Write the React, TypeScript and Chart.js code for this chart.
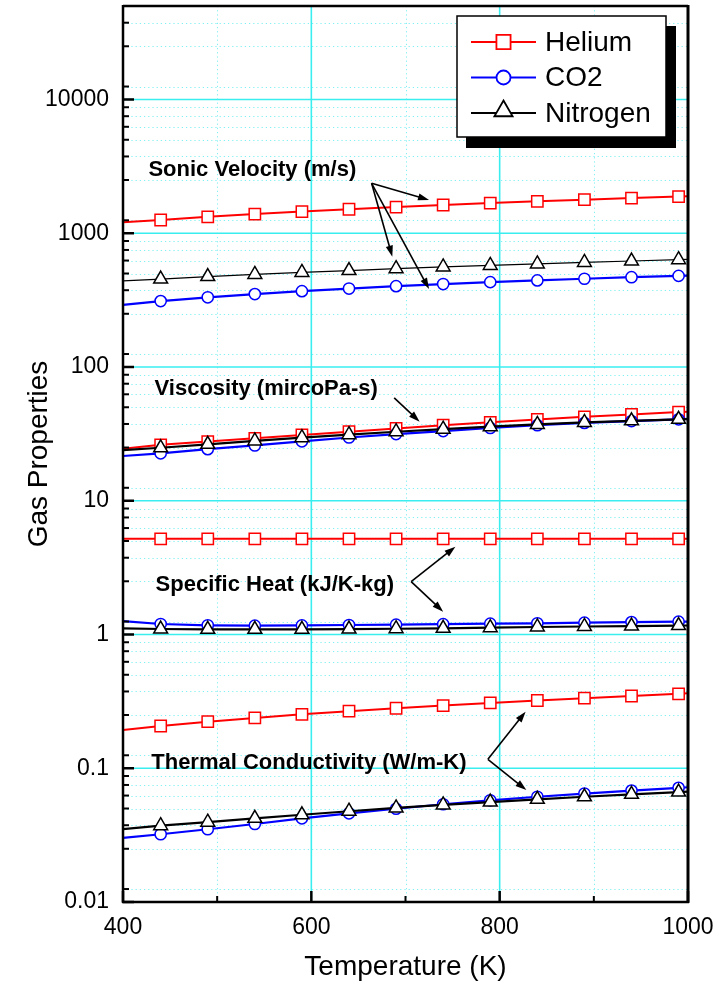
import React, { useEffect, useRef } from 'react';
import { Chart, registerables } from 'chart.js';

Chart.register(...registerables);

// ---------- data ----------
const temperatures = [400, 440, 490, 540, 590, 640, 690, 740, 790, 840, 890, 940, 990, 1000];

const heliumSonic = [1210, 1256, 1326, 1391, 1452, 1512, 1569, 1626, 1680, 1732, 1782, 1832, 1880, 1889];
const co2Sonic = [291, 311, 332, 351, 369, 386, 402, 417, 431, 444, 457, 469, 480, 482];
const nitrogenSonic = [440, 454, 474, 492, 509, 526, 543, 560, 575, 590, 605, 620, 634, 638];

const heliumViscosity = [24.5, 26.2, 27.7, 29.3, 31.0, 32.8, 34.7, 36.7, 38.6, 40.5, 42.4, 44.2, 46.0, 46.3];
const co2Viscosity = [21.6, 22.6, 24.3, 25.9, 27.8, 29.7, 31.5, 33.2, 35.0, 36.7, 38.2, 39.4, 40.6, 40.9];
const nitrogenViscosity = [23.9, 24.9, 26.4, 28.0, 29.6, 31.2, 32.8, 34.3, 35.8, 37.2, 38.5, 39.6, 40.6, 40.8];

const heliumCp = [5.19, 5.19, 5.19, 5.19, 5.19, 5.19, 5.19, 5.19, 5.19, 5.19, 5.19, 5.19, 5.19, 5.19];
const co2Cp = [1.26, 1.198, 1.172, 1.164, 1.17, 1.178, 1.185, 1.195, 1.205, 1.213, 1.225, 1.238, 1.247, 1.25];
const nitrogenCp = [1.112, 1.099, 1.094, 1.094, 1.094, 1.097, 1.104, 1.112, 1.124, 1.138, 1.148, 1.157, 1.166, 1.168];

const heliumK = [0.193, 0.207, 0.223, 0.238, 0.253, 0.267, 0.281, 0.294, 0.308, 0.321, 0.334, 0.347, 0.36, 0.363];
const co2K = [0.0302, 0.0321, 0.035, 0.0383, 0.0422, 0.046, 0.0498, 0.0538, 0.0576, 0.0612, 0.0647, 0.0681, 0.0714, 0.0721];
const nitrogenK = [0.0351, 0.0372, 0.0395, 0.0422, 0.0449, 0.0477, 0.0505, 0.0532, 0.0559, 0.0586, 0.0612, 0.0638, 0.0663, 0.0668];

const xMajorTicks = [400, 600, 800, 1000];
const xMinorTicks = [500, 700, 900];
const yMajorTicks = [0.01, 0.1, 1, 10, 100, 1000, 10000];
const yMinorSteps = [1.25, 2.5, 3.75, 5, 6.25, 7.5, 8.75];

const gasNames = ['Helium', 'CO2', 'Nitrogen'];

// ---------- styles ----------
const FONT = '"Liberation Sans", Arial, Helvetica, sans-serif';
const MAJOR_GRID = '#3aeef0';
const MINOR_GRID = '#7ff0f4';

const gasStyle: Record<string, any> = {
  Helium: { color: '#ff0000', pointStyle: 'rect', radius: 8, legendRadius: 10, width: 2, order: 2 },
  CO2: { color: '#0000ff', pointStyle: 'circle', radius: 5.6, legendRadius: 7, width: 2.2, order: 1 },
  Nitrogen: { color: '#000000', pointStyle: 'triangle', radius: 8, legendRadius: 10.5, width: 2.2, order: 0 },
};

const groups = [
  { prop: 'sonic', series: { Helium: heliumSonic, CO2: co2Sonic, Nitrogen: nitrogenSonic }, n2Width: 1.2 },
  { prop: 'viscosity', series: { Helium: heliumViscosity, CO2: co2Viscosity, Nitrogen: nitrogenViscosity }, n2Width: 2.2 },
  { prop: 'cp', series: { Helium: heliumCp, CO2: co2Cp, Nitrogen: nitrogenCp }, n2Width: 2.2 },
  { prop: 'k', series: { Helium: heliumK, CO2: co2K, Nitrogen: nitrogenK }, n2Width: 2.2 },
];

// annotation placement (data coordinates)
const annotations = [
  {
    text: 'Sonic Velocity (m/s)',
    at: [427, 2972],
    arrows: [
      { from: [664, 2361], to: [725, 1774] },
      { from: [664, 2361], to: [686, 668] },
      { from: [664, 2361], to: [725, 383] },
    ],
  },
  {
    text: 'Viscosity (mircoPa-s)',
    at: [433.5, 68.5],
    arrows: [{ from: [688, 58.7], to: [715, 39.0] }],
  },
  {
    text: 'Specific Heat (kJ/K-kg)',
    at: [434.6, 2.344],
    arrows: [
      { from: [706, 2.483], to: [753, 4.53] },
      { from: [706, 2.483], to: [740, 1.48] },
    ],
  },
  {
    text: 'Thermal Conductivity (W/m-K)',
    at: [430, 0.1094],
    arrows: [
      { from: [787.5, 0.1167], to: [827.5, 0.265] },
      { from: [787.5, 0.1167], to: [828.3, 0.0687] },
    ],
  },
];

function buildDatasets() {
  const out: any[] = [];
  const last = temperatures.length - 1;
  groups.forEach((g) => {
    gasNames.forEach((gas) => {
      const st = gasStyle[gas];
      const values = (g.series as any)[gas] as number[];
      out.push({
        label: gas,
        data: temperatures.map((t, i) => ({ x: t, y: values[i] })),
        borderColor: st.color,
        backgroundColor: '#ffffff',
        borderWidth: gas === 'Nitrogen' ? g.n2Width : st.width,
        pointStyle: st.pointStyle,
        pointRadius: temperatures.map((_, i) => (i === 0 || i === last ? 0 : st.radius)),
        pointBorderWidth: 1.5,
        pointBorderColor: st.color,
        pointBackgroundColor: '#ffffff',
        tension: 0,
        order: st.order,
        clip: 4,
      });
    });
  });
  return out;
}

function drawMarker(ctx: CanvasRenderingContext2D, style: string, x: number, y: number, r: number) {
  ctx.beginPath();
  if (style === 'rect') {
    const s = Math.SQRT1_2 * r;
    ctx.rect(x - s, y - s, 2 * s, 2 * s);
  } else if (style === 'circle') {
    ctx.arc(x, y, r, 0, Math.PI * 2);
  } else {
    ctx.moveTo(x, y - r);
    ctx.lineTo(x + 0.866 * r, y + 0.5 * r);
    ctx.lineTo(x - 0.866 * r, y + 0.5 * r);
    ctx.closePath();
  }
  ctx.fill();
  ctx.stroke();
}

function yMinorValues(min: number, max: number) {
  const vals: number[] = [];
  for (let e = Math.floor(Math.log10(min)); e <= Math.ceil(Math.log10(max)); e++) {
    yMinorSteps.forEach((s) => {
      const v = s * Math.pow(10, e);
      if (v > min && v < max) vals.push(v);
    });
  }
  return vals;
}

const framePlugin = {
  id: 'frameAndGrid',
  beforeDatasetsDraw(chart: any) {
    const { ctx, chartArea } = chart;
    const { left, right, top, bottom } = chartArea;
    const xs = chart.scales.x;
    const ys = chart.scales.y;
    ctx.save();
    // minor dotted grid
    ctx.strokeStyle = MINOR_GRID;
    ctx.lineWidth = 1;
    ctx.setLineDash([1.2, 3]);
    yMinorValues(ys.min, ys.max).forEach((v) => {
      const p = Math.round(ys.getPixelForValue(v)) + 0.5;
      ctx.beginPath();
      ctx.moveTo(left, p);
      ctx.lineTo(right, p);
      ctx.stroke();
    });
    xMinorTicks.forEach((v) => {
      const p = Math.round(xs.getPixelForValue(v)) + 0.5;
      ctx.beginPath();
      ctx.moveTo(p, top);
      ctx.lineTo(p, bottom);
      ctx.stroke();
    });
    // major solid grid
    ctx.setLineDash([]);
    ctx.strokeStyle = MAJOR_GRID;
    ctx.lineWidth = 1.6;
    yMajorTicks.forEach((v) => {
      if (v <= ys.min || v >= ys.max) return;
      const p = ys.getPixelForValue(v);
      ctx.beginPath();
      ctx.moveTo(left, p);
      ctx.lineTo(right, p);
      ctx.stroke();
    });
    xMajorTicks.forEach((v) => {
      if (v <= xs.min || v >= xs.max) return;
      const p = xs.getPixelForValue(v);
      ctx.beginPath();
      ctx.moveTo(p, top);
      ctx.lineTo(p, bottom);
      ctx.stroke();
    });
    ctx.restore();
  },
  afterDatasetsDraw(chart: any) {
    const { ctx, chartArea } = chart;
    const { left, right, top, bottom } = chartArea;
    const xs = chart.scales.x;
    const ys = chart.scales.y;
    ctx.save();
    ctx.strokeStyle = '#000';
    // ticks (inward)
    ctx.lineWidth = 2.5;
    yMajorTicks.forEach((v) => {
      const p = ys.getPixelForValue(v);
      ctx.beginPath();
      ctx.moveTo(left, p);
      ctx.lineTo(left + 11, p);
      ctx.stroke();
    });
    xMajorTicks.forEach((v) => {
      const p = xs.getPixelForValue(v);
      ctx.beginPath();
      ctx.moveTo(p, bottom);
      ctx.lineTo(p, bottom - 11);
      ctx.stroke();
    });
    ctx.lineWidth = 2;
    yMinorValues(ys.min, ys.max).forEach((v) => {
      const p = ys.getPixelForValue(v);
      ctx.beginPath();
      ctx.moveTo(left, p);
      ctx.lineTo(left + 6, p);
      ctx.stroke();
    });
    xMinorTicks.forEach((v) => {
      const p = xs.getPixelForValue(v);
      ctx.beginPath();
      ctx.moveTo(p, bottom);
      ctx.lineTo(p, bottom - 6);
      ctx.stroke();
    });
    // frame
    ctx.lineWidth = 2.5;
    ctx.beginPath();
    ctx.moveTo(left, top);
    ctx.lineTo(right, top);
    ctx.moveTo(left, top - 1);
    ctx.lineTo(left, bottom + 1);
    ctx.moveTo(left - 1, bottom);
    ctx.lineTo(right + 1, bottom);
    ctx.stroke();
    ctx.lineWidth = 3;
    ctx.beginPath();
    ctx.moveTo(right, top - 1);
    ctx.lineTo(right, bottom + 1);
    ctx.stroke();
    ctx.restore();
  },
  afterDraw(chart: any) {
    const { ctx } = chart;
    const xs = chart.scales.x;
    const ys = chart.scales.y;
    const px = (v: number) => xs.getPixelForValue(v);
    const py = (v: number) => ys.getPixelForValue(v);
    ctx.save();
    // annotations
    ctx.fillStyle = '#000';
    ctx.strokeStyle = '#000';
    ctx.font = `bold 22px ${FONT}`;
    ctx.textAlign = 'left';
    ctx.textBaseline = 'middle';
    annotations.forEach((a) => {
      ctx.fillText(a.text, px(a.at[0]), py(a.at[1]));
      a.arrows.forEach((ar) => {
        const x0 = px(ar.from[0]);
        const y0 = py(ar.from[1]);
        const x1 = px(ar.to[0]);
        const y1 = py(ar.to[1]);
        const ang = Math.atan2(y1 - y0, x1 - x0);
        const hl = 11;
        const hw = 3.6;
        ctx.lineWidth = 1.6;
        ctx.beginPath();
        ctx.moveTo(x0, y0);
        ctx.lineTo(x1 - Math.cos(ang) * hl * 0.8, y1 - Math.sin(ang) * hl * 0.8);
        ctx.stroke();
        ctx.beginPath();
        ctx.moveTo(x1, y1);
        ctx.lineTo(x1 - Math.cos(ang) * hl - Math.sin(ang) * hw, y1 - Math.sin(ang) * hl + Math.cos(ang) * hw);
        ctx.lineTo(x1 - Math.cos(ang) * hl + Math.sin(ang) * hw, y1 - Math.sin(ang) * hl - Math.cos(ang) * hw);
        ctx.closePath();
        ctx.fill();
      });
    });
    // legend
    const bx = 457;
    const by = 16;
    const bw = 209;
    const bh = 121;
    ctx.fillStyle = '#000';
    ctx.fillRect(bx + 9, by + 10, bw + 1, bh + 1);
    ctx.fillStyle = '#fff';
    ctx.fillRect(bx, by, bw, bh);
    ctx.lineWidth = 1.5;
    ctx.strokeStyle = '#000';
    ctx.strokeRect(bx, by, bw, bh);
    ctx.font = `28px ${FONT}`;
    ctx.textBaseline = 'middle';
    gasNames.forEach((gas, i) => {
      const st = gasStyle[gas];
      const ry = 42 + i * 35.5;
      ctx.strokeStyle = st.color;
      ctx.lineWidth = gas === 'Nitrogen' ? 2 : st.width;
      ctx.beginPath();
      ctx.moveTo(471, ry);
      ctx.lineTo(536, ry);
      ctx.stroke();
      ctx.fillStyle = '#fff';
      ctx.lineWidth = 1.8;
      const my = st.pointStyle === 'triangle' ? ry - 2 : ry;
      drawMarker(ctx, st.pointStyle, 503.5, my, st.legendRadius);
      ctx.fillStyle = '#000';
      ctx.fillText(gas, 545, ry + 1);
    });
    ctx.restore();
  },
};

export default function App() {
  const ref = useRef<HTMLCanvasElement>(null);
  useEffect(() => {
    if (!ref.current) return;
    const chart = new Chart(ref.current, {
      type: 'line',
      data: { datasets: buildDatasets() },
      options: {
        animation: false,
        responsive: false,
        devicePixelRatio: 1,
        parsing: true,
        layout: { padding: { left: 0, right: 38, top: 6, bottom: 0 } },
        plugins: { legend: { display: false }, tooltip: { enabled: false } },
        scales: {
          x: {
            type: 'linear',
            min: 400,
            max: 1000,
            grid: { display: false, drawTicks: false },
            border: { display: false },
            afterBuildTicks: (s: any) => {
              s.ticks = xMajorTicks.map((v) => ({ value: v }));
            },
            afterFit: (s: any) => {
              s.height = 85;
              s.paddingLeft = 0;
              s.paddingRight = 0;
            },
            ticks: {
              font: { family: FONT, size: 23 },
              color: '#000',
              padding: 12,
              maxRotation: 0,
              autoSkip: false,
              callback: (v: any) => String(v),
            },
            title: {
              display: true,
              text: 'Temperature (K)',
              font: { family: FONT, size: 28 },
              color: '#000',
              padding: { top: 0, bottom: 3 },
            },
          },
          y: {
            type: 'logarithmic',
            min: 0.01,
            max: 50000,
            grid: { display: false, drawTicks: false },
            border: { display: false },
            afterBuildTicks: (s: any) => {
              s.ticks = yMajorTicks.map((v) => ({ value: v }));
            },
            afterFit: (s: any) => {
              s.width = 123;
              s.paddingTop = 0;
              s.paddingBottom = 0;
            },
            ticks: {
              font: { family: FONT, size: 23 },
              color: '#000',
              padding: 14,
              autoSkip: false,
              callback: (v: any) => String(v),
            },
            title: {
              display: true,
              text: 'Gas Properties',
              font: { family: FONT, size: 28 },
              color: '#000',
              padding: { top: 22, bottom: 0 },
            },
          },
        },
      } as any,
      plugins: [framePlugin],
    });
    return () => chart.destroy();
  }, []);
  return (
    <div style={{ position: 'absolute', left: 0, top: 0, width: 726, height: 987, background: '#fff' }}>
      <canvas ref={ref} width={726} height={987} style={{ display: 'block', width: 726, height: 987 }} />
    </div>
  );
}
